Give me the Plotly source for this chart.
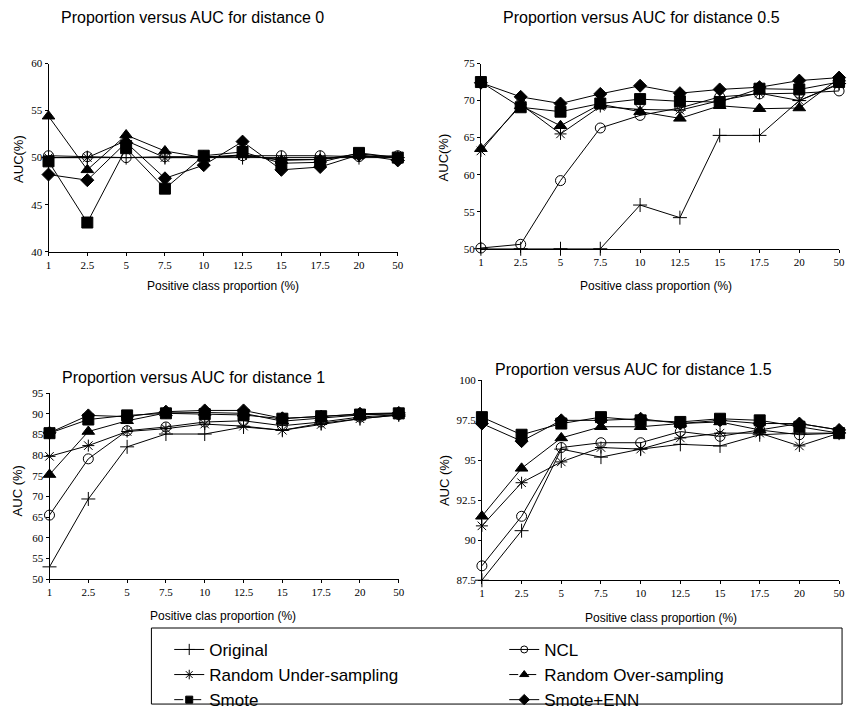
import plotly.graph_objects as go

# Positive class proportions (%) on the x axis
categories = ["1", "2.5", "5", "7.5", "10", "12.5", "15", "17.5", "20", "50"]

# AUC (%) for distance 0
original_d0 = [50.0, 50.0, 50.0, 50.0, 50.0, 50.0, 50.0, 50.0, 50.0, 50.0]
ncl_d0 = [50.2, 50.1, 50.0, 50.1, 50.1, 50.2, 50.2, 50.2, 50.1, 50.2]
ru_d0 = [50.0, 50.0, 51.8, 50.0, 50.0, 50.2, 49.8, 49.8, 50.2, 50.0]
ro_d0 = [54.4, 48.7, 52.4, 50.7, 50.0, 50.3, 49.7, 49.8, 50.4, 50.0]
smote_d0 = [49.6, 43.1, 51.0, 46.7, 50.2, 50.6, 49.4, 49.5, 50.5, 50.0]
senn_d0 = [48.2, 47.6, 51.6, 47.8, 49.2, 51.7, 48.7, 49.0, 50.3, 49.7]

# AUC (%) for distance 0.5
original_d05 = [50.0, 50.0, 50.0, 50.0, 55.9, 54.2, 65.3, 65.3, 70.0, 72.3]
ncl_d05 = [50.1, 50.6, 59.2, 66.3, 68.0, 69.0, 70.5, 70.9, 71.0, 71.3]
ru_d05 = [63.2, 69.5, 65.5, 69.2, 68.8, 68.7, 70.0, 71.0, 70.0, 72.2]
ro_d05 = [63.5, 69.3, 66.6, 69.5, 68.5, 67.6, 69.3, 68.9, 69.0, 73.0]
smote_d05 = [72.5, 69.1, 68.5, 69.6, 70.2, 69.9, 69.8, 71.6, 71.5, 72.5]
senn_d05 = [72.4, 70.5, 69.6, 70.9, 72.0, 71.0, 71.5, 71.8, 72.7, 73.1]

# AUC (%) for distance 1
original_d1 = [53.0, 69.4, 82.0, 85.1, 85.1, 86.8, 86.0, 87.7, 88.8, 89.7]
ncl_d1 = [65.5, 79.1, 85.9, 86.8, 88.0, 88.3, 87.1, 88.0, 89.2, 89.8]
ru_d1 = [79.7, 82.3, 85.7, 86.4, 87.5, 87.0, 86.0, 87.4, 88.8, 89.7]
ro_d1 = [75.3, 85.7, 88.3, 90.2, 90.3, 90.1, 88.2, 88.9, 89.7, 90.0]
smote_d1 = [85.3, 88.6, 89.6, 90.1, 89.9, 89.7, 88.8, 89.4, 89.8, 90.1]
senn_d1 = [85.4, 89.6, 89.3, 90.5, 90.8, 90.8, 88.9, 89.3, 90.0, 90.2]

# AUC (%) for distance 1.5
original_d15 = [87.5, 90.6, 95.7, 95.2, 95.7, 96.0, 95.9, 96.6, 96.7, 96.7]
ncl_d15 = [88.4, 91.5, 95.8, 96.1, 96.1, 96.8, 96.5, 96.9, 96.6, 96.7]
ru_d15 = [90.9, 93.6, 94.9, 95.8, 95.7, 96.4, 96.7, 96.7, 95.9, 96.7]
ro_d15 = [91.5, 94.5, 96.4, 97.1, 97.1, 97.3, 97.4, 96.9, 97.3, 96.9]
smote_d15 = [97.7, 96.6, 97.3, 97.7, 97.5, 97.4, 97.6, 97.5, 97.1, 96.7]
senn_d15 = [97.3, 96.2, 97.5, 97.5, 97.6, 97.3, 97.5, 97.3, 97.3, 96.9]

# Y tick labels per panel
yticks_d0 = [40, 45, 50, 55, 60]
yticks_d05 = [50, 55, 60, 65, 70, 75]
yticks_d1 = [50, 55, 60, 65, 70, 75, 80, 85, 90, 95]
yticks_d15 = [87.5, 90, 92.5, 95, 97.5, 100]

method_names = ["Original", "NCL", "Random Under-sampling",
                "Random Over-sampling", "Smote", "Smote+ENN"]

W, H = 853, 718
BLACK = "#000000"

# marker style per method: (symbol, size, legend size, legend dash)
styles = {
    "Original": ("cross-thin-open", 10, 8, "solid"),
    "NCL": ("circle-open", 10, 7, "solid"),
    "Random Under-sampling": ("asterisk-open", 10, 8, "solid"),
    "Random Over-sampling": ("triangle-up", 11, 8, "dash"),
    "Smote": ("square", 11, 7, "dash"),
    "Smote+ENN": ("diamond", 10, 8, "solid"),
}

panels = [
    ("x", "y", [original_d0, ncl_d0, ru_d0, ro_d0, smote_d0, senn_d0]),
    ("x2", "y2", [original_d05, ncl_d05, ru_d05, ro_d05, smote_d05, senn_d05]),
    ("x3", "y3", [original_d1, ncl_d1, ru_d1, ro_d1, smote_d1, senn_d1]),
    ("x4", "y4", [original_d15, ncl_d15, ru_d15, ro_d15, smote_d15, senn_d15]),
]

fig = go.Figure()
xidx = list(range(len(categories)))

for xa, ya, series in panels:
    for name, vals in zip(method_names, series):
        sym, size, _, _ = styles[name]
        fig.add_trace(go.Scatter(
            x=xidx, y=vals, xaxis=xa, yaxis=ya, mode="lines+markers",
            name=name, showlegend=False, cliponaxis=False,
            line=dict(color=BLACK, width=1),
            marker=dict(symbol=sym, size=size, color=BLACK,
                        line=dict(color=BLACK, width=1)),
        ))

# legend entries (no data, style only)
for name in method_names:
    sym, _, lsize, dash = styles[name]
    fig.add_trace(go.Scatter(
        x=[None], y=[None], mode="lines+markers", name=name,
        line=dict(color=BLACK, width=1, dash=dash),
        marker=dict(symbol=sym, size=lsize, color=BLACK,
                    line=dict(color=BLACK, width=1)),
    ))


def px_x(p):
    return p / W


def px_y(p):
    return 1 - p / H


tick_font = dict(family="Liberation Serif, Times New Roman, serif", size=11, color=BLACK)


def xaxis_cfg(x0, x1, anchor):
    return dict(domain=[px_x(x0), px_x(x1)], anchor=anchor, range=[0, 9],
                tickvals=xidx, ticktext=categories, showline=True,
                linecolor=BLACK, linewidth=1, ticks="outside", ticklen=3,
                tickcolor=BLACK, showgrid=False, zeroline=False,
                tickfont=tick_font)


def yaxis_cfg(y_top, y_bot, anchor, ticks):
    return dict(domain=[px_y(y_bot), px_y(y_top)], anchor=anchor,
                range=[ticks[0], ticks[-1]], tickvals=ticks,
                ticktext=[("%g" % t) for t in ticks], showline=True,
                linecolor=BLACK, linewidth=1, ticks="outside", ticklen=3,
                tickcolor=BLACK, showgrid=False, zeroline=False,
                tickfont=tick_font)


fig.update_layout(
    width=W, height=H, margin=dict(l=0, r=0, t=0, b=0),
    paper_bgcolor="white", plot_bgcolor="white",
    xaxis=xaxis_cfg(46, 399, "y"),
    yaxis=yaxis_cfg(59, 252, "x", yticks_d0),
    xaxis2=xaxis_cfg(483, 845, "y2"),
    yaxis2=yaxis_cfg(59, 249, "x2", yticks_d05),
    xaxis3=xaxis_cfg(47, 400, "y3"),
    yaxis3=yaxis_cfg(397, 588, "x3", yticks_d1),
    xaxis4=xaxis_cfg(484, 845, "y4"),
    yaxis4=yaxis_cfg(384, 589, "x4", yticks_d15),
    legend=dict(orientation="h", x=px_x(168), y=px_y(642), xanchor="left",
                yanchor="top", bgcolor="rgba(0,0,0,0)",
                entrywidth=290, entrywidthmode="pixels",
                font=dict(family="Arial, Liberation Sans, sans-serif", size=17,
                          color=BLACK),
                traceorder="normal", itemsizing="trace"),
    showlegend=True,
)

# legend frame
fig.add_shape(type="rect", xref="paper", yref="paper",
              x0=px_x(150), x1=px_x(848), y0=px_y(716), y1=px_y(638),
              line=dict(color=BLACK, width=1))

sans = "Arial, Liberation Sans, sans-serif"


def label(text, x, y, size, angle=0):
    fig.add_annotation(text=text, xref="paper", yref="paper",
                       x=px_x(x), y=px_y(y), xanchor="center", yanchor="middle",
                       showarrow=False, textangle=angle,
                       font=dict(family=sans, size=size, color=BLACK))


# panel titles
label("Proportion versus AUC for distance 0", 192, 12, 16)
label("Proportion versus AUC for distance 0.5", 645, 12, 16)
label("Proportion versus AUC for distance 1", 193, 381, 16)
label("Proportion versus AUC for distance 1.5", 637, 373, 16)

# x axis titles
label("Positive class proportion (%)", 222, 287, 12)
label("Positive class proportion (%)", 660, 287, 12)
label("Positive clas proportion (%)", 222, 626, 12)
label("Positive class proportion (%)", 665, 628, 12)

# y axis titles
label("AUC(%)", 15, 157, 13, -90)
label("AUC(%)", 445, 155, 13, -90)
label("AUC (%)", 15, 497, 13, -90)
label("AUC (%)", 446, 487, 13, -90)

fig.write_html("out.html")
